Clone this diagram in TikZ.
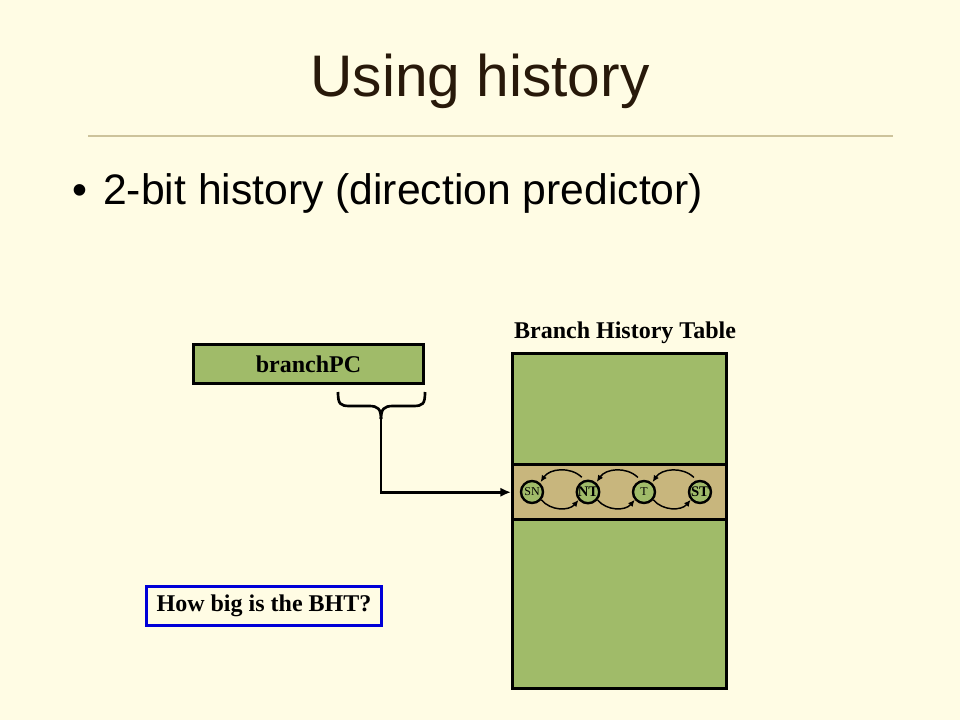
\documentclass[tikz,border=0pt]{standalone}
\usepackage{fontspec}
\setmainfont{Liberation Serif}
\newfontfamily\slidefont{Liberation Sans}
\usetikzlibrary{shapes,arrows.meta}

\definecolor{slidebg}{RGB}{255,252,228}
\definecolor{titlebrown}{RGB}{40,25,10}
\definecolor{rulecol}{RGB}{205,195,155}
\definecolor{bhtgreen}{RGB}{160,187,105}
\definecolor{rowtan}{RGB}{200,182,125}
\definecolor{askblue}{RGB}{0,0,215}

\begin{document}
\begin{tikzpicture}[x=0.75pt,y=-0.75pt]
	\tikzstyle{greenbox} = [draw, line width=2.25pt, fill=bhtgreen, inner sep=0]
	\tikzstyle{state} = [draw, circle, line width=1.8pt, fill=bhtgreen, minimum size=16.5pt, inner sep=0]
	\tikzstyle{cyc} = [line width=1.1pt, -{Latex[length=5pt,width=4.5pt]}]

	\fill[slidebg] (0,0) rectangle (960,720);
	\useasboundingbox (0,0) rectangle (960,720);

	\node[anchor=base, text=titlebrown, font=\slidefont\fontsize{44}{50}\selectfont] (title) at (480,97) {Using history};
	\draw[rulecol, line width=0.8pt] (88,136) -- (893,136);
	\node[anchor=base west, inner sep=0, font=\slidefont\fontsize{32}{38}\selectfont] (dot) at (72,205) {•};
	\node[anchor=base west, inner sep=0, font=\slidefont\fontsize{32}{38}\selectfont] (point) at (103,205) {2-bit history (direction predictor)};

	\node[greenbox, minimum width=172.5pt, minimum height=29.25pt, font=\bfseries\fontsize{18}{20}\selectfont] (pc) at (308.5,364) {branchPC};

	\node[greenbox, minimum width=160.5pt, minimum height=251.25pt] (bht) at (619.5,520.5) {};
	\node[greenbox, fill=rowtan, minimum width=160.5pt, minimum height=41.6pt] (bhtrow) at (619.5,492.25) {};
	\node[anchor=base, font=\bfseries\fontsize{18}{20}\selectfont] (bhtlabel) at (625,339) {Branch History Table};

	\foreach \s/\x/\f in {SN/532/\fontsize{9}{9}\selectfont, NT/588/\bfseries\fontsize{11}{11}\selectfont,
			T/644/\fontsize{9}{9}\selectfont, ST/700/\bfseries\fontsize{11}{11}\selectfont} {
		\node[state, font=\f] (\s) at (\x,492) {\s};
	}
	\draw[cyc] ([yshift=3pt]NT.120) to[bend right=50] ([yshift=1pt]SN.45);
	\draw[cyc] ([yshift=3pt]T.120) to[bend right=50] ([yshift=1pt]NT.45);
	\draw[cyc] ([yshift=3pt]ST.120) to[bend right=50] ([yshift=1pt]T.45);
	\draw[cyc] (SN.-40) to[bend right=50] (NT.-140);
	\draw[cyc] (NT.-40) to[bend right=50] (T.-140);
	\draw[cyc] (T.-40) to[bend right=50] (ST.-140);

	\draw[line width=2pt] (338,392) .. controls (338,404) and (340,406) .. (350,406) -- (369,406)
		.. controls (378,406) and (381,409) .. (381,419);
	\draw[line width=2pt] (425,392) .. controls (425,404) and (423,406) .. (413,406) -- (393,406)
		.. controls (384,406) and (381,409) .. (381,419);
	\coordinate (bracetip) at (381,418);
	\draw[line width=2pt, -{Latex[length=8pt,width=7pt]}] (bracetip) |- (bhtrow.west);

	\node[draw=askblue, line width=2.25pt, minimum width=176.25pt, minimum height=29.25pt, inner sep=0,
		font=\bfseries\fontsize{18}{20}\selectfont] (ask) at (264,606) {How big is the BHT?};
\end{tikzpicture}
\end{document}
